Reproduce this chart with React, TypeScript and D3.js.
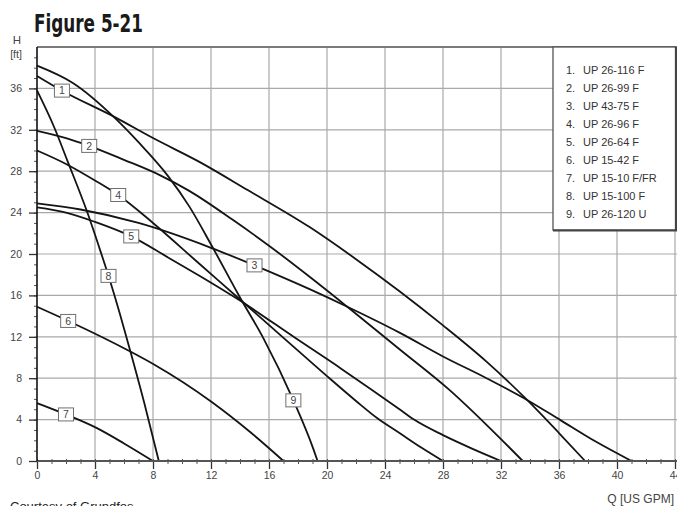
import * as d3 from 'd3';
import { useEffect, useRef } from 'react';

// pump curves: [flow US GPM, head ft]
const curve1: [number, number][] = [
  [0, 37.2], [1.7, 35.8], [5.4, 33.2], [8, 31.2], [11.2, 28.9], [14.5, 26.2], [18.8, 22.6],
  [22, 19.5], [25, 16.4], [28, 13.1], [31, 9.6], [33.8, 5.9], [36, 2.7], [37.8, 0]
];
const curve2: [number, number][] = [
  [0, 31.9], [2, 31.2], [3.5, 30.5], [6, 29.1], [8.5, 27.6], [10.5, 26.1], [13.5, 23.3],
  [16, 20.8], [18.8, 17.8], [21.4, 14.9], [25, 10.8], [28.5, 6.8], [31, 3.5], [33.5, 0]
];
const curve3: [number, number][] = [
  [0, 24.9], [3, 24.3], [7, 23.0], [12, 20.6], [15, 18.9], [18.8, 16.6], [21.4, 14.9],
  [25, 12.4], [28, 10.1], [31, 8.0], [33.8, 5.9], [36.1, 3.95], [38.5, 1.9], [41, 0]
];
const curve4: [number, number][] = [
  [0, 30.0], [2, 28.7], [4, 27.1], [5.6, 25.7], [8, 23.0], [11, 19.3], [14, 15.6],
  [17, 11.9], [20, 8.2], [22, 5.8], [23.5, 4.1], [25, 2.7], [26.5, 1.3], [28, 0]
];
const curve5: [number, number][] = [
  [0, 24.5], [2, 24.0], [4, 23.1], [6.5, 21.7], [9, 19.7], [11.2, 17.9], [14, 15.5],
  [17.8, 11.9], [21, 8.9], [25, 5.0], [26, 4.0], [28, 2.5], [30, 1.2], [32, 0]
];
const curve6: [number, number][] = [
  [0, 14.9], [2.2, 13.5], [6.4, 10.6], [8.1, 9.3], [12.05, 5.7], [14.7, 2.8], [17, 0]
];
const curve7: [number, number][] = [
  [0, 5.6], [2, 4.5], [4.1, 3.2], [6, 1.7], [8, 0]
];
const curve8: [number, number][] = [
  [0, 35.8], [1.2, 32.2], [2.1, 29.0], [3.45, 24.1], [4.3, 20.6], [4.95, 17.8],
  [5.7, 14.3], [6.4, 10.8], [7.4, 5.6], [8.4, 0]
];
const curve9: [number, number][] = [
  [0, 38.2], [2.5, 36.5], [5.4, 33.1], [7, 30.8], [9, 27.6], [10.5, 24.6], [12.05, 20.8],
  [14, 15.8], [15.6, 11.9], [17.7, 5.8], [19.05, 1.2], [19.35, 0]
];

const pumpNames = [
  'UP 26-116 F', 'UP 26-99 F', 'UP 43-75 F', 'UP 26-96 F', 'UP 26-64 F',
  'UP 15-42 F', 'UP 15-10 F/FR', 'UP 15-100 F', 'UP 26-120 U'
];
// flow where each numbered tag sits on its curve
const labelFlows = [1.72, 3.6, 15.0, 5.6, 6.5, 2.15, 2.0, 4.93, 17.68];

const flowTicks = [0, 4, 8, 12, 16, 20, 24, 28, 32, 36, 40, 44];
const headTicks = [0, 4, 8, 12, 16, 20, 24, 28, 32, 36];

const curves = [curve1, curve2, curve3, curve4, curve5, curve6, curve7, curve8, curve9];

const FONT = '"Liberation Sans", Arial, sans-serif';

export default function App() {
  const svgRef = useRef<SVGSVGElement>(null);

  useEffect(() => {
    const svg = d3.select(svgRef.current!);
    svg.selectAll('*').remove();

    const x = d3.scaleLinear().domain([0, 44]).range([37, 675]);
    const y = d3.scaleLinear().domain([0, 40]).range([461, 47]);

    // grid
    const grid = svg.append('g');
    grid
      .selectAll('line.v')
      .data(flowTicks.filter((d) => d > 0))
      .join('line')
      .attr('x1', (d) => x(d))
      .attr('x2', (d) => x(d))
      .attr('y1', y(40))
      .attr('y2', y(0))
      .attr('stroke', '#a9a9a9')
      .attr('stroke-width', 1.2);
    grid
      .selectAll('line.h')
      .data(headTicks.filter((d) => d > 0))
      .join('line')
      .attr('x1', x(0))
      .attr('x2', 677)
      .attr('y1', (d) => y(d))
      .attr('y2', (d) => y(d))
      .attr('stroke', '#a9a9a9')
      .attr('stroke-width', 1.2);
    grid
      .append('line')
      .attr('x1', x(0))
      .attr('x2', 677)
      .attr('y1', y(40))
      .attr('y2', y(40))
      .attr('stroke', '#7a7a7a')
      .attr('stroke-width', 2.2);

    // curves
    const line = d3
      .line<[number, number]>()
      .x((d) => x(d[0]))
      .y((d) => y(d[1]))
      .curve(d3.curveMonotoneX);

    svg
      .append('g')
      .selectAll('path')
      .data(curves)
      .join('path')
      .attr('d', (d) => line(d))
      .attr('fill', 'none')
      .attr('stroke', '#141414')
      .attr('stroke-width', 1.8);

    // numbered tags
    const tags = svg
      .append('g')
      .selectAll('g')
      .data(curves)
      .join('g')
      .attr('transform', (d, i) => {
        const head = d3
          .scaleLinear()
          .domain(d.map((p) => p[0]))
          .range(d.map((p) => p[1]))(labelFlows[i]);
        return `translate(${x(labelFlows[i])},${y(head)})`;
      });
    tags
      .append('rect')
      .attr('x', -7.5)
      .attr('y', -6.5)
      .attr('width', 15)
      .attr('height', 13)
      .attr('fill', '#fff')
      .attr('stroke', '#707070')
      .attr('stroke-width', 1);
    tags
      .append('text')
      .attr('text-anchor', 'middle')
      .attr('dy', '0.36em')
      .attr('font-family', FONT)
      .attr('font-size', 10.5)
      .attr('fill', '#444')
      .text((d, i) => i + 1);

    // minor ticks
    svg
      .append('g')
      .attr('transform', `translate(0,${y(0)})`)
      .call(d3.axisBottom(x).tickValues(d3.range(0, 45, 1)).tickSize(3).tickSizeOuter(0).tickFormat(() => ''))
      .call((g) => {
        g.select('.domain').remove();
        g.selectAll('.tick line').attr('stroke', '#555').attr('y1', -2);
      });
    svg
      .append('g')
      .attr('transform', `translate(${x(0)},0)`)
      .call(d3.axisLeft(y).tickValues(d3.range(0, 40, 1)).tickSize(3).tickSizeOuter(0).tickFormat(() => ''))
      .call((g) => {
        g.select('.domain').remove();
        g.selectAll('.tick line').attr('stroke', '#555');
      });

    // x axis
    svg
      .append('g')
      .attr('transform', `translate(0,${y(0)})`)
      .call(d3.axisBottom(x).tickValues(flowTicks).tickSize(8).tickSizeOuter(0).tickPadding(3))
      .call((g) => {
        g.select('.domain').remove();
        g.attr('font-family', FONT).attr('font-size', 10.5);
        g.selectAll('.tick line').attr('stroke', '#333').attr('stroke-width', 1.3);
        g.selectAll('.tick text').attr('fill', '#444');
        g.append('line')
          .attr('x1', x(0))
          .attr('x2', 677)
          .attr('stroke', '#555')
          .attr('stroke-width', 1.8);
      });

    // y axis
    svg
      .append('g')
      .attr('transform', `translate(${x(0)},0)`)
      .call(d3.axisLeft(y).tickValues(headTicks).tickSize(8).tickSizeOuter(0).tickPadding(7))
      .call((g) => {
        g.select('.domain').remove();
        g.attr('font-family', FONT).attr('font-size', 10.5);
        g.selectAll('.tick line').attr('stroke', '#333').attr('stroke-width', 1.3);
        g.selectAll('.tick text').attr('fill', '#444');
        g.append('line')
          .attr('y1', y(40))
          .attr('y2', y(0))
          .attr('stroke', '#111')
          .attr('stroke-width', 1.6);
      });

    // legend
    const legend = svg.append('g');
    legend
      .append('rect')
      .attr('x', 553)
      .attr('y', 47)
      .attr('width', 122.5)
      .attr('height', 183)
      .attr('fill', '#fff')
      .attr('stroke', '#555')
      .attr('stroke-width', 1.3);
    legend
      .append('path')
      .attr('d', 'M553,230.5H676V47')
      .attr('fill', 'none')
      .attr('stroke', '#444')
      .attr('stroke-width', 2);
    const rows = legend
      .selectAll('g')
      .data(pumpNames)
      .join('g')
      .attr('transform', (d, i) => `translate(0,${73.5 + i * 18})`)
      .attr('font-family', FONT)
      .attr('font-size', 11)
      .attr('fill', '#333');
    rows
      .append('text')
      .attr('x', 566)
      .text((d, i) => `${i + 1}.`);
    rows
      .append('text')
      .attr('x', 583)
      .text((d) => d);

    // titles
    svg
      .append('text')
      .attr('x', 34)
      .attr('y', 32)
      .attr('font-family', '"DejaVu Sans Condensed", "DejaVu Sans", sans-serif')
      .attr('font-weight', 'bold')
      .attr('font-size', 25)
      .attr('textLength', 109)
      .attr('lengthAdjust', 'spacingAndGlyphs')
      .attr('fill', '#1a1a1a')
      .text('Figure 5-21');
    svg
      .append('text')
      .attr('x', 17)
      .attr('y', 44)
      .attr('text-anchor', 'middle')
      .attr('font-family', FONT)
      .attr('font-size', 11.5)
      .attr('fill', '#444')
      .text('H');
    svg
      .append('text')
      .attr('x', 16)
      .attr('y', 58)
      .attr('text-anchor', 'middle')
      .attr('font-family', FONT)
      .attr('font-size', 10.5)
      .attr('fill', '#444')
      .text('[ft]');
    svg
      .append('text')
      .attr('x', 674)
      .attr('y', 503)
      .attr('text-anchor', 'end')
      .attr('font-family', FONT)
      .attr('font-size', 12)
      .attr('fill', '#444')
      .text('Q [US GPM]');
    svg
      .append('text')
      .attr('x', 10)
      .attr('y', 511)
      .attr('font-family', FONT)
      .attr('font-size', 13)
      .attr('fill', '#222')
      .text('Courtesy of Grundfos');
  }, []);

  return (
    <svg
      ref={svgRef}
      width={677}
      height={506}
      style={{ position: 'absolute', left: 0, top: 0, background: '#fff' }}
    />
  );
}
